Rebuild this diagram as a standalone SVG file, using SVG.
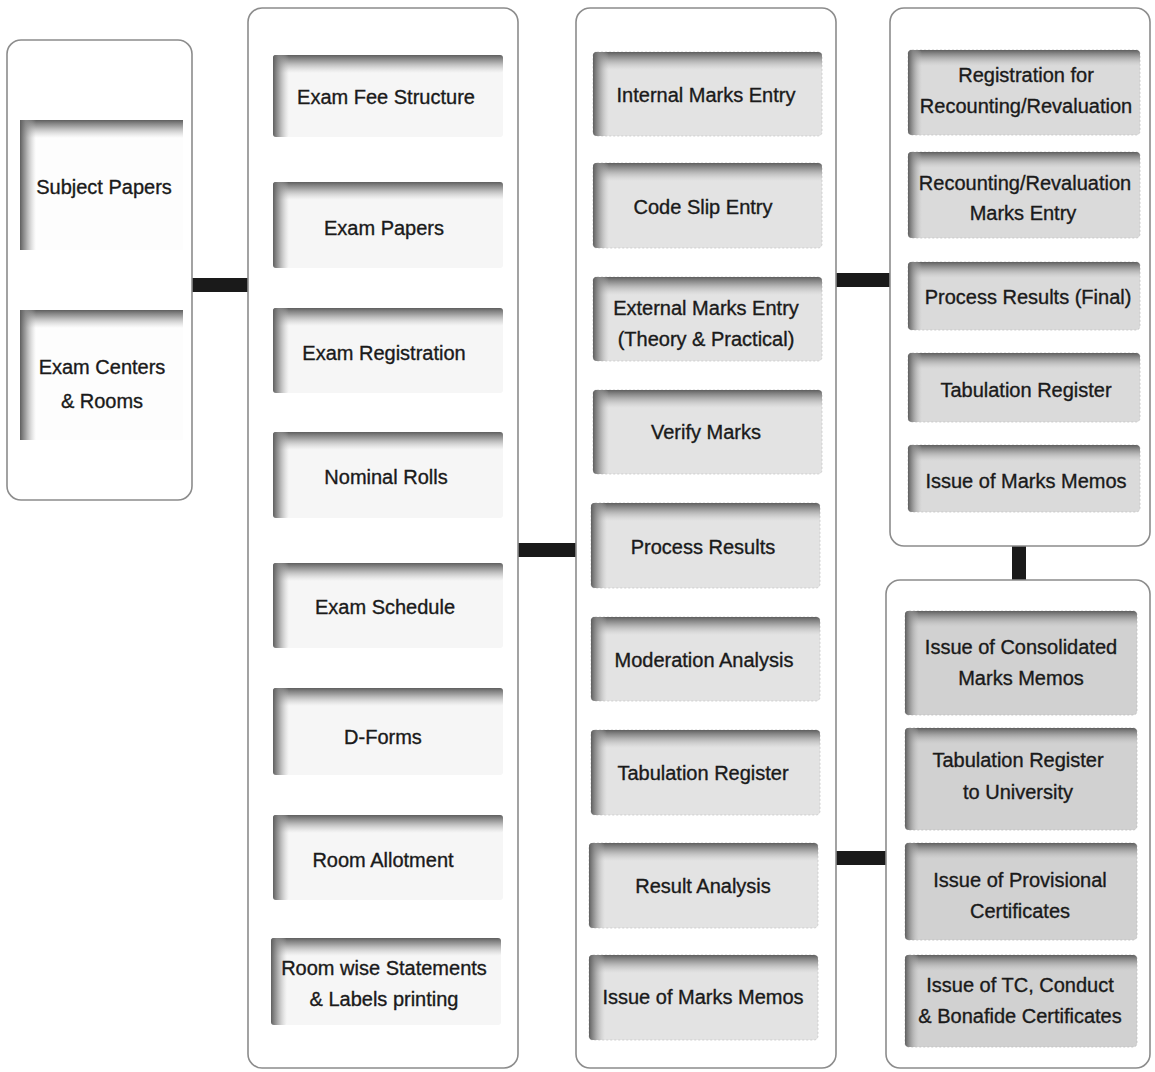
<svg xmlns="http://www.w3.org/2000/svg" width="1155" height="1072" viewBox="0 0 1155 1072">
<defs>
<linearGradient id="gt" x1="0" y1="0" x2="0" y2="1"><stop offset="0" stop-color="#5e5e5e"/><stop offset="0.35" stop-color="#8a8a8a" stop-opacity="0.8"/><stop offset="1" stop-color="#bbb" stop-opacity="0"/></linearGradient>
<linearGradient id="gl" x1="0" y1="0" x2="1" y2="0"><stop offset="0" stop-color="#5e5e5e"/><stop offset="0.35" stop-color="#8a8a8a" stop-opacity="0.8"/><stop offset="1" stop-color="#bbb" stop-opacity="0"/></linearGradient>
</defs>
<style>
.outer{fill:#fff;stroke:#8c8c8c;stroke-width:1.6}
.b1{fill:#fdfdfd}
.b2{fill:#f6f6f6}
.b3{fill:#e3e3e3;stroke:#c8c8c8;stroke-width:0.8;stroke-dasharray:2 2}
.b4{fill:#dadada;stroke:#c4c4c4;stroke-width:0.8;stroke-dasharray:2 2}
.b5{fill:#d1d1d1;stroke:#bcbcbc;stroke-width:0.8;stroke-dasharray:2 2}
.t{fill:url(#gt)}
.l{fill:url(#gl)}
text{font-family:"Liberation Sans",Arial,sans-serif;font-size:20px;fill:#1a1a1a;stroke:#1a1a1a;stroke-width:0.35;text-anchor:middle}
.conn{stroke:#1a1a1a;stroke-width:14;fill:none}
</style>
<rect width="1155" height="1072" fill="#fff"/>

<g id="connectors">
<line class="conn" x1="192" y1="285" x2="254" y2="285"/>
<line class="conn" x1="518" y1="550" x2="577" y2="550"/>
<line class="conn" x1="836" y1="280" x2="891" y2="280"/>
<line class="conn" x1="836" y1="858" x2="887" y2="858"/>
<line class="conn" x1="1019" y1="546" x2="1019" y2="581"/>
</g>

<g id="col1">
<rect class="outer" x="7" y="40" width="185" height="460" rx="14"/>
<g id="subject-papers">
<rect class="b1" x="20" y="120" width="163" height="130"/>
<rect class="t" x="20" y="120" width="163" height="18"/>
<rect class="l" x="20" y="120" width="16" height="130"/>
<text x="104" y="194">Subject Papers</text>
</g>
<g id="exam-centers">
<rect class="b1" x="20" y="310" width="163" height="130"/>
<rect class="t" x="20" y="310" width="163" height="18"/>
<rect class="l" x="20" y="310" width="16" height="130"/>
<text x="102" y="374">Exam Centers</text>
<text x="102" y="408">&amp; Rooms</text>
</g>
</g>

<g id="col2">
<rect class="outer" x="248" y="8" width="270" height="1060" rx="14"/>
<g id="exam-fee-structure">
<rect class="b2" x="273" y="55" width="230" height="82" rx="3"/>
<rect class="t" x="273" y="55" width="230" height="18" rx="3"/>
<rect class="l" x="273" y="55" width="16" height="82" rx="3"/>
<text x="386" y="104">Exam Fee Structure</text>
</g>
<g id="exam-papers">
<rect class="b2" x="273" y="182" width="230" height="86" rx="3"/>
<rect class="t" x="273" y="182" width="230" height="18" rx="3"/>
<rect class="l" x="273" y="182" width="16" height="86" rx="3"/>
<text x="384" y="235">Exam Papers</text>
</g>
<g id="exam-registration">
<rect class="b2" x="273" y="308" width="230" height="85" rx="3"/>
<rect class="t" x="273" y="308" width="230" height="18" rx="3"/>
<rect class="l" x="273" y="308" width="16" height="85" rx="3"/>
<text x="384" y="360">Exam Registration</text>
</g>
<g id="nominal-rolls">
<rect class="b2" x="273" y="432" width="230" height="86" rx="3"/>
<rect class="t" x="273" y="432" width="230" height="18" rx="3"/>
<rect class="l" x="273" y="432" width="16" height="86" rx="3"/>
<text x="386" y="484">Nominal Rolls</text>
</g>
<g id="exam-schedule">
<rect class="b2" x="273" y="563" width="230" height="85" rx="3"/>
<rect class="t" x="273" y="563" width="230" height="18" rx="3"/>
<rect class="l" x="273" y="563" width="16" height="85" rx="3"/>
<text x="385" y="614">Exam Schedule</text>
</g>
<g id="d-forms">
<rect class="b2" x="273" y="688" width="230" height="87" rx="3"/>
<rect class="t" x="273" y="688" width="230" height="18" rx="3"/>
<rect class="l" x="273" y="688" width="16" height="87" rx="3"/>
<text x="383" y="744">D-Forms</text>
</g>
<g id="room-allotment">
<rect class="b2" x="273" y="815" width="230" height="85" rx="3"/>
<rect class="t" x="273" y="815" width="230" height="18" rx="3"/>
<rect class="l" x="273" y="815" width="16" height="85" rx="3"/>
<text x="383" y="867">Room Allotment</text>
</g>
<g id="room-wise-statements">
<rect class="b2" x="271" y="938" width="230" height="87" rx="3"/>
<rect class="t" x="271" y="938" width="230" height="18" rx="3"/>
<rect class="l" x="271" y="938" width="16" height="87" rx="3"/>
<text x="384" y="975">Room wise Statements</text>
<text x="384" y="1006">&amp; Labels printing</text>
</g>
</g>

<g id="col3">
<rect class="outer" x="576" y="8" width="260" height="1060" rx="14"/>
<g id="internal-marks-entry">
<rect class="b3" x="593" y="52" width="229" height="84" rx="4"/>
<rect class="t" x="593" y="52" width="229" height="18" rx="4"/>
<rect class="l" x="593" y="52" width="16" height="84" rx="4"/>
<text x="706" y="102">Internal Marks Entry</text>
</g>
<g id="code-slip-entry">
<rect class="b3" x="593" y="163" width="229" height="85" rx="4"/>
<rect class="t" x="593" y="163" width="229" height="18" rx="4"/>
<rect class="l" x="593" y="163" width="16" height="85" rx="4"/>
<text x="703" y="214">Code Slip Entry</text>
</g>
<g id="external-marks-entry">
<rect class="b3" x="593" y="277" width="229" height="84" rx="4"/>
<rect class="t" x="593" y="277" width="229" height="18" rx="4"/>
<rect class="l" x="593" y="277" width="16" height="84" rx="4"/>
<text x="706" y="315">External Marks Entry</text>
<text x="706" y="346">(Theory &amp; Practical)</text>
</g>
<g id="verify-marks">
<rect class="b3" x="593" y="390" width="229" height="84" rx="4"/>
<rect class="t" x="593" y="390" width="229" height="18" rx="4"/>
<rect class="l" x="593" y="390" width="16" height="84" rx="4"/>
<text x="706" y="439">Verify Marks</text>
</g>
<g id="process-results">
<rect class="b3" x="591" y="503" width="229" height="85" rx="4"/>
<rect class="t" x="591" y="503" width="229" height="18" rx="4"/>
<rect class="l" x="591" y="503" width="16" height="85" rx="4"/>
<text x="703" y="554">Process Results</text>
</g>
<g id="moderation-analysis">
<rect class="b3" x="591" y="617" width="229" height="84" rx="4"/>
<rect class="t" x="591" y="617" width="229" height="18" rx="4"/>
<rect class="l" x="591" y="617" width="16" height="84" rx="4"/>
<text x="704" y="667">Moderation Analysis</text>
</g>
<g id="tabulation-register">
<rect class="b3" x="591" y="730" width="229" height="85" rx="4"/>
<rect class="t" x="591" y="730" width="229" height="18" rx="4"/>
<rect class="l" x="591" y="730" width="16" height="85" rx="4"/>
<text x="703" y="780">Tabulation Register</text>
</g>
<g id="result-analysis">
<rect class="b3" x="589" y="843" width="229" height="85" rx="4"/>
<rect class="t" x="589" y="843" width="229" height="18" rx="4"/>
<rect class="l" x="589" y="843" width="16" height="85" rx="4"/>
<text x="703" y="893">Result Analysis</text>
</g>
<g id="issue-marks-memos">
<rect class="b3" x="589" y="955" width="229" height="85" rx="4"/>
<rect class="t" x="589" y="955" width="229" height="18" rx="4"/>
<rect class="l" x="589" y="955" width="16" height="85" rx="4"/>
<text x="703" y="1004">Issue of Marks Memos</text>
</g>
</g>

<g id="col4-top">
<rect class="outer" x="890" y="8" width="260" height="538" rx="14"/>
<g id="registration-recounting">
<rect class="b4" x="908" y="50" width="232" height="85" rx="4"/>
<rect class="t" x="908" y="50" width="232" height="16" rx="4"/>
<rect class="l" x="908" y="50" width="14" height="85" rx="4"/>
<text x="1026" y="82">Registration for</text>
<text x="1026" y="113">Recounting/Revaluation</text>
</g>
<g id="recounting-marks-entry">
<rect class="b4" x="908" y="152" width="232" height="86" rx="4"/>
<rect class="t" x="908" y="152" width="232" height="16" rx="4"/>
<rect class="l" x="908" y="152" width="14" height="86" rx="4"/>
<text x="1025" y="190">Recounting/Revaluation</text>
<text x="1023" y="220">Marks Entry</text>
</g>
<g id="process-results-final">
<rect class="b4" x="908" y="262" width="232" height="68" rx="4"/>
<rect class="t" x="908" y="262" width="232" height="16" rx="4"/>
<rect class="l" x="908" y="262" width="14" height="68" rx="4"/>
<text x="1028" y="304">Process Results (Final)</text>
</g>
<g id="tabulation-register-2">
<rect class="b4" x="908" y="353" width="232" height="69" rx="4"/>
<rect class="t" x="908" y="353" width="232" height="16" rx="4"/>
<rect class="l" x="908" y="353" width="14" height="69" rx="4"/>
<text x="1026" y="397">Tabulation Register</text>
</g>
<g id="issue-marks-memos-2">
<rect class="b4" x="908" y="445" width="232" height="67" rx="4"/>
<rect class="t" x="908" y="445" width="232" height="16" rx="4"/>
<rect class="l" x="908" y="445" width="14" height="67" rx="4"/>
<text x="1026" y="488">Issue of Marks Memos</text>
</g>
</g>

<g id="col4-bottom">
<rect class="outer" x="886" y="580" width="264" height="488" rx="14"/>
<g id="consolidated-marks-memos">
<rect class="b5" x="905" y="611" width="232" height="104" rx="4"/>
<rect class="t" x="905" y="611" width="232" height="16" rx="4"/>
<rect class="l" x="905" y="611" width="14" height="104" rx="4"/>
<text x="1021" y="654">Issue of Consolidated</text>
<text x="1021" y="685">Marks Memos</text>
</g>
<g id="tabulation-register-university">
<rect class="b5" x="905" y="728" width="232" height="102" rx="4"/>
<rect class="t" x="905" y="728" width="232" height="16" rx="4"/>
<rect class="l" x="905" y="728" width="14" height="102" rx="4"/>
<text x="1018" y="767">Tabulation Register</text>
<text x="1018" y="799">to University</text>
</g>
<g id="provisional-certificates">
<rect class="b5" x="905" y="843" width="232" height="97" rx="4"/>
<rect class="t" x="905" y="843" width="232" height="16" rx="4"/>
<rect class="l" x="905" y="843" width="14" height="97" rx="4"/>
<text x="1020" y="887">Issue of Provisional</text>
<text x="1020" y="918">Certificates</text>
</g>
<g id="tc-conduct-bonafide">
<rect class="b5" x="905" y="955" width="232" height="92" rx="4"/>
<rect class="t" x="905" y="955" width="232" height="16" rx="4"/>
<rect class="l" x="905" y="955" width="14" height="92" rx="4"/>
<text x="1020" y="992">Issue of TC, Conduct</text>
<text x="1020" y="1023">&amp; Bonafide Certificates</text>
</g>
</g>
</svg>
